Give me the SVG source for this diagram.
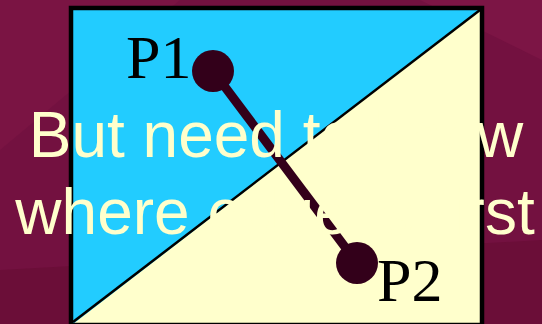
<svg xmlns="http://www.w3.org/2000/svg" width="542" height="324" viewBox="0 0 542 324">
<style>
.lbl{font-family:"Liberation Serif","Times New Roman",serif;font-size:62px;fill:#000}
.cap{font-family:"Liberation Sans",Arial,sans-serif;font-size:64px;fill:#ffffcc;text-anchor:middle}
.pt{fill:#33001a}
</style>
<g id="background">
<rect x="0" y="0" width="542" height="324" fill="#731140"/>
<polygon points="0,0 180,0 0,150" fill="#7a1443"/>
<polygon points="0,270 542,240 542,324 0,324" fill="#6b0e38"/>
<polygon points="420,0 542,0 542,60" fill="#7c1545"/>
</g>
<g id="frame">
<rect x="71" y="8" width="411" height="317" fill="#22ccff"/>
<polygon points="480,10 480,324 73,324" fill="#ffffcc"/>
<line x1="73" y1="322" x2="480" y2="10" stroke="#000" stroke-width="2.5"/>
<rect x="71" y="8" width="411" height="317" fill="none" stroke="#000" stroke-width="4.5"/>
</g>
<g id="connectors">
<line x1="213" y1="71" x2="357" y2="263" stroke="#33001a" stroke-width="9"/>
</g>
<g id="P1">
<circle class="pt" cx="213" cy="71" r="21"/>
<text class="lbl" x="126" y="78">P1</text>
</g>
<g id="P2">
<circle class="pt" cx="357" cy="263" r="21"/>
<text class="lbl" x="377" y="301">P2</text>
</g>
<g id="caption">
<text class="cap" x="276" y="157">But need to know</text>
<text class="cap" x="275" y="234">where edge is first</text>
</g>
</svg>
